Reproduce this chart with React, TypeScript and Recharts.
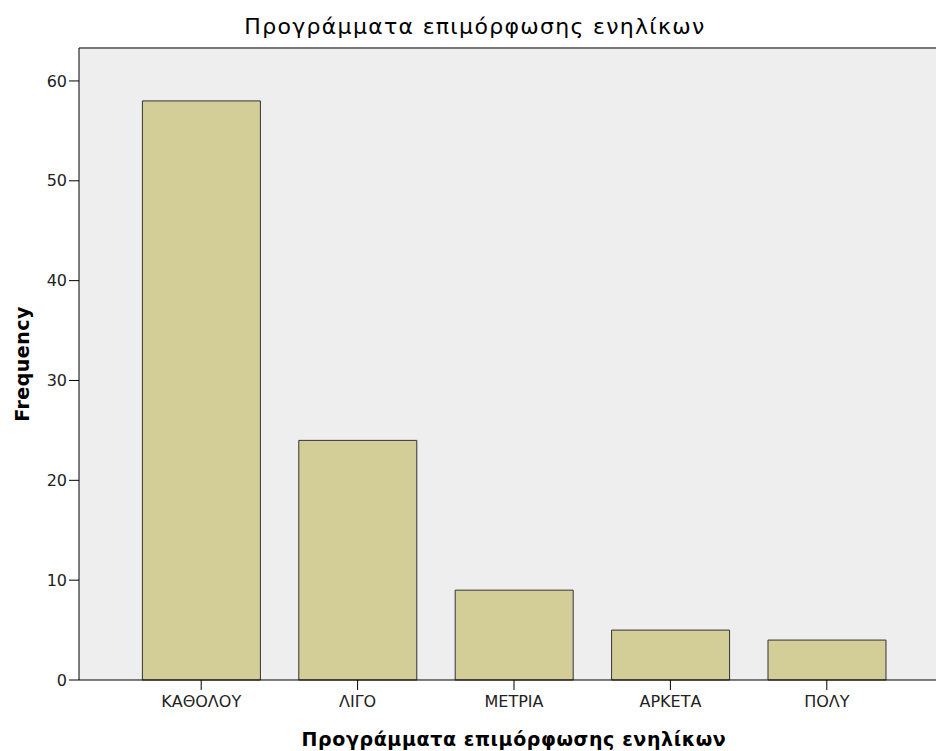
import { Bar, BarChart, CartesianGrid, ReferenceLine, XAxis, YAxis } from "recharts";

const categories = ["ΚΑΘΟΛΟΥ", "ΛΙΓΟ", "ΜΕΤΡΙΑ", "ΑΡΚΕΤΑ", "ΠΟΛΥ"];
const frequencies = [58, 24, 9, 5, 4];
const yTicks = [0, 10, 20, 30, 40, 50, 60];
const yMax = 63.3;

const title = "Προγράμματα επιμόρφωσης ενηλίκων";
const xTitle = "Προγράμματα επιμόρφωσης ενηλίκων";
const yTitle = "Frequency";

const data = categories.map((name, i) => ({ name, value: frequencies[i] }));

const font = "'DejaVu Sans', Verdana, sans-serif";

export default function App() {
  return (
    <div
      style={{
        position: "absolute",
        left: 0,
        top: 0,
        width: 936,
        height: 751,
        overflow: "hidden",
        background: "#fff",
        fontFamily: font,
      }}
    >
      <div
        style={{
          position: "absolute",
          top: 16,
          left: 0,
          width: 950,
          textAlign: "center",
          fontSize: 22,
          letterSpacing: 1.3,
          lineHeight: "22px",
          color: "#000",
        }}
      >
        {title}
      </div>
      <BarChart
        width={960}
        height={751}
        data={data}
        margin={{ top: 48, right: 11, left: 0, bottom: 0 }}
        barCategoryGap="12.4%"
      >
        <CartesianGrid horizontal={false} vertical={false} fill="#EEEEEE" stroke="none" />
        <ReferenceLine y={yMax} stroke="#777" strokeWidth={2} />
        <XAxis
          dataKey="name"
          height={71}
          padding={{ left: 44, right: 44 }}
          tick={{ fontSize: 16, fill: "#222", fontFamily: font }}
          tickSize={10}
          tickMargin={6}
          axisLine={{ stroke: "#000" }}
          tickLine={{ stroke: "#000" }}
          label={{
            value: xTitle,
            position: "insideBottom",
            offset: 5,
            style: { fontSize: 19, letterSpacing: 0.6, fontWeight: "bold", fill: "#000", fontFamily: font },
          }}
        />
        <YAxis
          width={79}
          domain={[0, yMax]}
          ticks={yTicks}
          tick={{ fontSize: 16, fill: "#222", fontFamily: font }}
          tickSize={10}
          tickMargin={2}
          axisLine={{ stroke: "#000" }}
          tickLine={{ stroke: "#000" }}
          label={{
            value: yTitle,
            angle: -90,
            position: "insideLeft",
            offset: 22,
            style: { textAnchor: "middle", fontSize: 19, letterSpacing: 0.5, fontWeight: "bold", fill: "#000", fontFamily: font },
          }}
        />
        <Bar dataKey="value" fill="#D3CE97" stroke="#333" strokeWidth={1} isAnimationActive={false} />
      </BarChart>
    </div>
  );
}
